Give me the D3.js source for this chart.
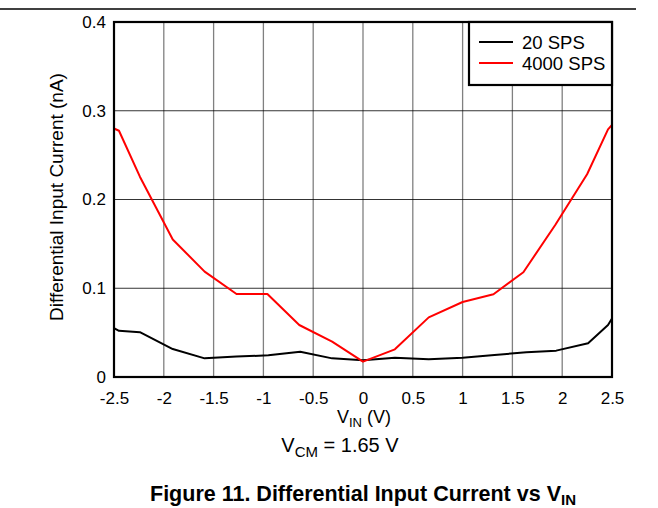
<!DOCTYPE html>
<html>
<head>
<meta charset="utf-8">
<script src="https://cdn.jsdelivr.net/npm/d3@7"></script>
<style>
  body { margin: 0; background: #fff; }
  text { font-family: "Liberation Sans", Arial, sans-serif; }
</style>
</head>
<body>
<svg id="chart" width="658" height="508"></svg>
<script>
// data
let vin20 = [-2.5, -2.45, -2.24, -1.91, -1.59, -1.27, -0.95, -0.63, -0.31, 0, 0.32, 0.66, 1.0, 1.32, 1.64, 1.94, 2.26, 2.46, 2.5];
let current20 = [0.055, 0.052, 0.0505, 0.0315, 0.021, 0.023, 0.0244, 0.0285, 0.021, 0.019, 0.0218, 0.020, 0.0218, 0.0248, 0.0278, 0.0297, 0.038, 0.0586, 0.066];

let vin4000 = [-2.5, -2.45, -2.24, -1.91, -1.59, -1.27, -0.96, -0.64, -0.31, 0, 0.32, 0.66, 1.0, 1.31, 1.61, 1.93, 2.25, 2.46, 2.5];
let current4000 = [0.28, 0.2775, 0.2257, 0.155, 0.1187, 0.0935, 0.0935, 0.0586, 0.0398, 0.0173, 0.0312, 0.0672, 0.0845, 0.0932, 0.118, 0.1713, 0.2284, 0.279, 0.284];

let xTicks = [-2.5, -2, -1.5, -1, -0.5, 0, 0.5, 1, 1.5, 2, 2.5];
let yTicks = [0, 0.1, 0.2, 0.3, 0.4];
let seriesNames = ["20 SPS", "4000 SPS"];
let seriesColors = ["#000000", "#ff0000"];

let svg = d3.select("#chart");

let plotLeft = 114, plotRight = 612, plotTop = 22, plotBottom = 377;

let x = d3.scaleLinear().domain([-2.5, 2.5]).range([plotLeft, plotRight]);
let y = d3.scaleLinear().domain([0, 0.4]).range([plotBottom, plotTop]);

// rule across the top of the page
svg.append("line")
  .attr("x1", 0).attr("x2", 636)
  .attr("y1", 9).attr("y2", 9)
  .attr("stroke", "#000").attr("stroke-width", 1.5);

// grid
svg.append("g")
  .selectAll("line")
  .data(xTicks.slice(1, -1))
  .enter()
  .append("line")
  .attr("x1", (d) => x(d)).attr("x2", (d) => x(d))
  .attr("y1", plotTop).attr("y2", plotBottom)
  .attr("stroke", "#808080").attr("stroke-width", 1.3);

svg.append("g")
  .selectAll("line")
  .data(yTicks.slice(1, -1))
  .enter()
  .append("line")
  .attr("x1", plotLeft).attr("x2", plotRight)
  .attr("y1", (d) => y(d)).attr("y2", (d) => y(d))
  .attr("stroke", "#000").attr("stroke-width", 0.8);

// curves
let line = d3.line()
  .x((d) => x(d[0]))
  .y((d) => y(d[1]));

let series = [
  d3.zip(vin20, current20),
  d3.zip(vin4000, current4000)
];

svg.append("g")
  .selectAll("path")
  .data(series)
  .enter()
  .append("path")
  .attr("d", line)
  .attr("fill", "none")
  .attr("stroke", (d, i) => seriesColors[i])
  .attr("stroke-width", 2)
  .attr("stroke-linejoin", "round");

// frame
svg.append("rect")
  .attr("x", plotLeft).attr("y", plotTop)
  .attr("width", plotRight - plotLeft).attr("height", plotBottom - plotTop)
  .attr("fill", "none").attr("stroke", "#000").attr("stroke-width", 2.2);

// axes (labels only, the frame draws the lines)
let xAxis = svg.append("g")
  .attr("transform", "translate(0," + plotBottom + ")")
  .call(d3.axisBottom(x).tickValues(xTicks).tickSize(0).tickPadding(15).tickFormat((d) => d));
xAxis.select(".domain").remove();
xAxis.selectAll("text").attr("font-size", 17).attr("fill", "#000")
  .attr("font-family", "Liberation Sans, Arial, sans-serif");

let yAxis = svg.append("g")
  .attr("transform", "translate(" + plotLeft + ",0)")
  .call(d3.axisLeft(y).tickValues(yTicks).tickSize(0).tickPadding(8).tickFormat((d) => d));
yAxis.select(".domain").remove();
yAxis.selectAll("text").attr("font-size", 17).attr("fill", "#000")
  .attr("font-family", "Liberation Sans, Arial, sans-serif");

// legend
let legend = svg.append("g");
legend.append("rect")
  .attr("x", 469).attr("y", plotTop)
  .attr("width", plotRight - 469).attr("height", 63)
  .attr("fill", "#fff").attr("stroke", "#000").attr("stroke-width", 2.2);

seriesNames.forEach((name, i) => {
  let ly = 42 + i * 21;
  legend.append("line")
    .attr("x1", 479).attr("x2", 513)
    .attr("y1", ly).attr("y2", ly)
    .attr("stroke", seriesColors[i]).attr("stroke-width", 2);
  legend.append("text")
    .attr("x", 522).attr("y", ly + 6.5)
    .attr("font-size", 18.5)
    .text(name);
});

// axis titles
svg.append("text")
  .attr("transform", "translate(63," + 197 + ") rotate(-90)")
  .attr("text-anchor", "middle")
  .attr("font-size", 19)
  .text("Differential Input Current (nA)");

let xTitle = svg.append("text")
  .attr("x", 364).attr("y", 423)
  .attr("text-anchor", "middle")
  .attr("font-size", 18);
xTitle.append("tspan").text("V");
xTitle.append("tspan").attr("font-size", 13).attr("dy", 4).text("IN");
xTitle.append("tspan").attr("dy", -4).text(" (V)");

let vcm = svg.append("text")
  .attr("x", 340).attr("y", 452)
  .attr("text-anchor", "middle")
  .attr("font-size", 20);
vcm.append("tspan").text("V");
vcm.append("tspan").attr("font-size", 15).attr("dy", 5).text("CM");
vcm.append("tspan").attr("dy", -5).text(" = 1.65 V");

let caption = svg.append("text")
  .attr("x", 363).attr("y", 501)
  .attr("text-anchor", "middle")
  .attr("font-size", 21.5)
  .attr("font-weight", "bold");
caption.append("tspan").text("Figure 11. Differential Input Current vs V");
caption.append("tspan").attr("font-size", 15).attr("dy", 4).text("IN");
</script>
</body>
</html>
